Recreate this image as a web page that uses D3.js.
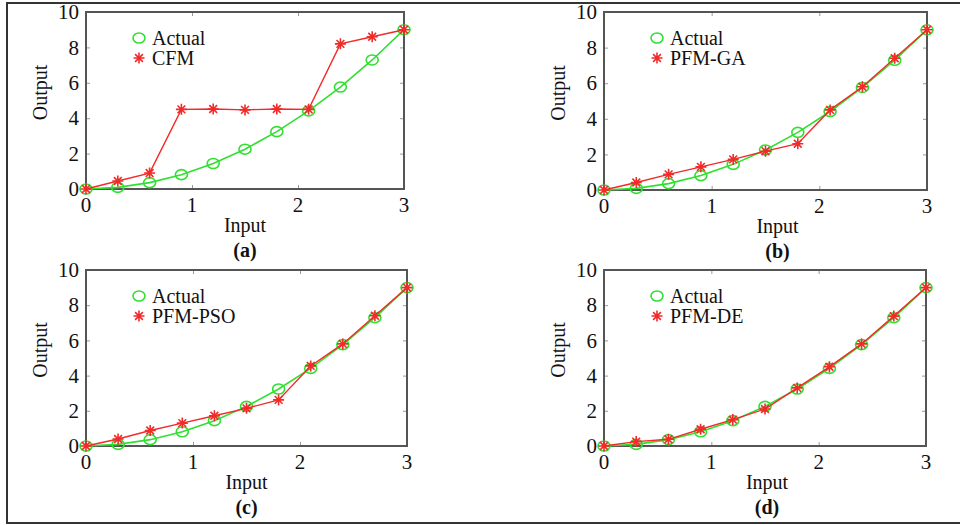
<!DOCTYPE html>
<html>
<head>
<meta charset="utf-8">
<script src="https://cdn.jsdelivr.net/npm/d3@7"></script>
<style>
  body { margin: 0; background: #fff; }
  svg text { font-family: "Liberation Serif", "Times New Roman", serif; fill: #111; }
</style>
</head>
<body>
<div id="chart"></div>
<script>
// input values (same for every panel)
var inputs = [0, 0.3, 0.6, 0.9, 1.2, 1.5, 1.8, 2.1, 2.4, 2.7, 3.0];
// actual output
var actual = [0, 0.09, 0.36, 0.81, 1.44, 2.25, 3.24, 4.41, 5.76, 7.29, 9.0];
// model outputs
var cfm    = [0, 0.45, 0.9, 4.5, 4.52, 4.47, 4.52, 4.5, 8.2, 8.6, 9.0];
var pfmGA  = [0, 0.42, 0.88, 1.3, 1.72, 2.18, 2.6, 4.5, 5.8, 7.4, 9.0];
var pfmPSO = [0, 0.4, 0.88, 1.3, 1.72, 2.14, 2.62, 4.55, 5.8, 7.4, 9.0];
var pfmDE  = [0, 0.25, 0.38, 0.95, 1.5, 2.1, 3.3, 4.5, 5.8, 7.38, 9.0];

var modelNames = ["CFM", "PFM-GA", "PFM-PSO", "PFM-DE"];
var panelTags = ["(a)", "(b)", "(c)", "(d)"];
var xTicks = [0, 1, 2, 3];
var yTicks = [0, 2, 4, 6, 8, 10];

var green = "#2fe02f", red = "#f22a2a";

var svg = d3.select("#chart").append("svg")
  .attr("width", 960)
  .attr("height", 525);

// outer frame
svg.append("rect")
  .attr("x", 7).attr("y", 3)
  .attr("width", 980).attr("height", 520)
  .attr("fill", "none")
  .attr("stroke", "#333")
  .attr("stroke-width", 2);

// plot boxes: left, top, right, bottom
var panels = [
  {box: [86, 12, 404, 189], model: cfm, lx: 0},
  {box: [604, 12, 927, 190], model: pfmGA, lx: 12},
  {box: [86, 270, 407, 446], model: pfmPSO, lx: 0},
  {box: [604, 270, 926, 446], model: pfmDE, lx: 2}
];

var starPath = function(r) {
  var p = "";
  for (var k = 0; k < 4; k++) {
    var a = k * Math.PI / 4;
    var dx = r * Math.cos(a), dy = r * Math.sin(a);
    p += "M" + (-dx) + "," + (-dy) + "L" + dx + "," + dy;
  }
  return p;
};

panels.forEach(function(p, i) {
  var b = p.box;
  var x = d3.scaleLinear().domain([0, 3]).range([b[0], b[2]]);
  var y = d3.scaleLinear().domain([0, 10]).range([b[3], b[1]]);
  var g = svg.append("g");

  // inward ticks on all four sides
  g.append("g").attr("transform", "translate(0," + b[3] + ")")
    .call(d3.axisTop(x).tickValues(xTicks).tickSize(4).tickFormat(""));
  g.append("g").attr("transform", "translate(0," + b[1] + ")")
    .call(d3.axisBottom(x).tickValues(xTicks).tickSize(4).tickFormat(""));
  g.append("g").attr("transform", "translate(" + b[0] + ",0)")
    .call(d3.axisRight(y).tickValues(yTicks).tickSize(4).tickFormat(""));
  g.append("g").attr("transform", "translate(" + b[2] + ",0)")
    .call(d3.axisLeft(y).tickValues(yTicks).tickSize(4).tickFormat(""));
  g.selectAll(".domain").remove();
  g.selectAll(".tick line").attr("stroke", "#999");

  g.append("rect")
    .attr("x", b[0]).attr("y", b[1])
    .attr("width", b[2] - b[0]).attr("height", b[3] - b[1])
    .attr("fill", "none").attr("stroke", "#555").attr("stroke-width", 2);

  // tick labels
  g.selectAll(".xl").data(xTicks).enter().append("text")
    .attr("x", function(d) { return x(d); })
    .attr("y", b[3] + 23)
    .attr("text-anchor", "middle")
    .style("font-size", "21px")
    .text(function(d) { return d; });
  g.selectAll(".yl").data(yTicks).enter().append("text")
    .attr("x", b[0] - 7)
    .attr("y", function(d) { return y(d); })
    .attr("dy", "0.34em")
    .attr("text-anchor", "end")
    .style("font-size", "21px")
    .text(function(d) { return d; });

  // axis titles
  var cx = (b[0] + b[2]) / 2;
  g.append("text")
    .attr("transform", "translate(" + (b[0] - 39) + "," + ((b[1] + b[3]) / 2 - 8) + ") rotate(-90)")
    .attr("text-anchor", "middle")
    .style("font-size", "20px")
    .text("Output");
  g.append("text")
    .attr("x", cx + p.lx).attr("y", b[3] + 43)
    .attr("text-anchor", "middle")
    .style("font-size", "20px")
    .text("Input");
  g.append("text")
    .attr("x", cx + p.lx).attr("y", b[3] + 68)
    .attr("text-anchor", "middle")
    .style("font-size", "20px")
    .style("font-weight", "bold")
    .text(panelTags[i]);

  var line = d3.line()
    .x(function(d, j) { return x(inputs[j]); })
    .y(function(d) { return y(d); });

  // actual series
  g.append("path").datum(actual)
    .attr("d", line).attr("fill", "none")
    .attr("stroke", green).attr("stroke-width", 1.6);
  g.selectAll(".act").data(actual).enter().append("ellipse")
    .attr("cx", function(d, j) { return x(inputs[j]); })
    .attr("cy", function(d) { return y(d); })
    .attr("rx", 6).attr("ry", 5)
    .attr("fill", "none").attr("stroke", green).attr("stroke-width", 1.6);

  // model series
  g.append("path").datum(p.model)
    .attr("d", line).attr("fill", "none")
    .attr("stroke", red).attr("stroke-width", 1.4);
  g.selectAll(".mod").data(p.model).enter().append("path")
    .attr("transform", function(d, j) { return "translate(" + x(inputs[j]) + "," + y(d) + ")"; })
    .attr("d", starPath(5.5))
    .attr("stroke", red).attr("stroke-width", 1.6);

  // legend
  var lx = b[0] + 53, ly = b[1] + 26;
  g.append("ellipse")
    .attr("cx", lx).attr("cy", ly).attr("rx", 6).attr("ry", 5)
    .attr("fill", "none").attr("stroke", green).attr("stroke-width", 1.6);
  g.append("text")
    .attr("x", lx + 13).attr("y", ly).attr("dy", "0.34em")
    .style("font-size", "20px")
    .text("Actual");
  g.append("path")
    .attr("transform", "translate(" + lx + "," + (ly + 20) + ")")
    .attr("d", starPath(5.5))
    .attr("stroke", red).attr("stroke-width", 1.6);
  g.append("text")
    .attr("x", lx + 13).attr("y", ly + 20).attr("dy", "0.34em")
    .style("font-size", "20px")
    .text(modelNames[i]);
});
</script>
</body>
</html>
